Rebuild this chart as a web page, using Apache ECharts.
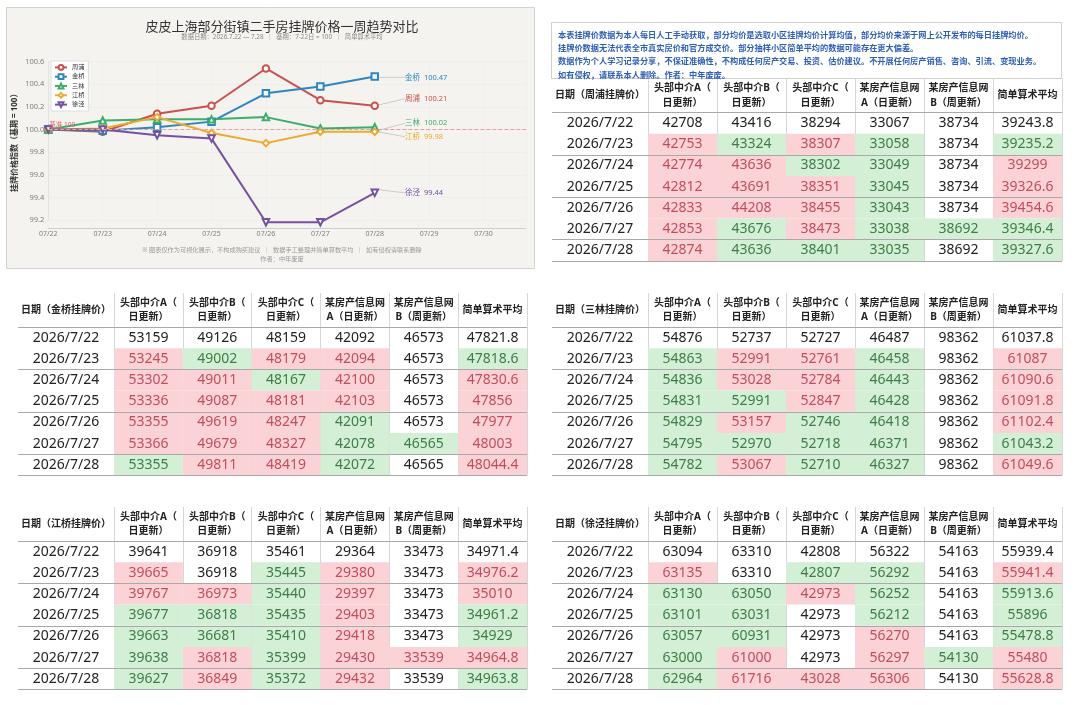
<!DOCTYPE html>
<html>
<head>
<meta charset="utf-8">
<script src="https://cdn.jsdelivr.net/npm/echarts@6/dist/echarts.min.js"></script>
<style>
html,body{margin:0;padding:0;background:#fff;}
#main{width:1080px;height:705px;}
</style>
</head>
<body>
<div id="main"></div>
<script>
// ---------- DATA ----------
const chartDates = ['07/22','07/23','07/24','07/25','07/26','07/27','07/28','07/29','07/30'];
const districts = ['周浦','金桥','三林','江桥','徐泾'];
const idxZhoupu   = [100, 99.98, 100.14, 100.21, 100.54, 100.26, 100.21];
const idxJinqiao  = [100, 99.99, 100.02, 100.07, 100.32, 100.38, 100.47];
const idxSanlin   = [100, 100.08, 100.09, 100.09, 100.11, 100.01, 100.02];
const idxJiangqiao= [100, 100.01, 100.11, 99.97, 99.88, 99.98, 99.98];
const idxXujing   = [100, 100.00, 99.95, 99.92, 99.18, 99.18, 99.44];

const tableDates = ['2026/7/22','2026/7/23','2026/7/24','2026/7/25','2026/7/26','2026/7/27','2026/7/28'];
const tableColumns = ['头部中介A（\n日更新）','头部中介B（\n日更新）','头部中介C（\n日更新）','某房产信息网\nA（日更新）','某房产信息网\nB（周更新）','简单算术平均'];

const zhoupuPrices = [
  [42708,43416,38294,33067,38734,39243.8],
  [42753,43324,38307,33058,38734,39235.2],
  [42774,43636,38302,33049,38734,39299],
  [42812,43691,38351,33045,38734,39326.6],
  [42833,44208,38455,33043,38734,39454.6],
  [42853,43676,38473,33038,38692,39346.4],
  [42874,43636,38401,33035,38692,39327.6]
];
const jinqiaoPrices = [
  [53159,49126,48159,42092,46573,47821.8],
  [53245,49002,48179,42094,46573,47818.6],
  [53302,49011,48167,42100,46573,47830.6],
  [53336,49087,48181,42103,46573,47856],
  [53355,49619,48247,42091,46573,47977],
  [53366,49679,48327,42078,46565,48003],
  [53355,49811,48419,42072,46565,48044.4]
];
const sanlinPrices = [
  [54876,52737,52727,46487,98362,61037.8],
  [54863,52991,52761,46458,98362,61087],
  [54836,53028,52784,46443,98362,61090.6],
  [54831,52991,52847,46428,98362,61091.8],
  [54829,53157,52746,46418,98362,61102.4],
  [54795,52970,52718,46371,98362,61043.2],
  [54782,53067,52710,46327,98362,61049.6]
];
const jiangqiaoPrices = [
  [39641,36918,35461,29364,33473,34971.4],
  [39665,36918,35445,29380,33473,34976.2],
  [39767,36973,35440,29397,33473,35010],
  [39677,36818,35435,29403,33473,34961.2],
  [39663,36681,35410,29418,33473,34929],
  [39638,36818,35399,29430,33539,34964.8],
  [39627,36849,35372,29432,33539,34963.8]
];
const xujingPrices = [
  [63094,63310,42808,56322,54163,55939.4],
  [63135,63310,42807,56292,54163,55941.4],
  [63130,63050,42973,56252,54163,55913.6],
  [63101,63031,42973,56212,54163,55896],
  [63057,60931,42973,56270,54163,55478.8],
  [63000,61000,42973,56297,54130,55480],
  [62964,61716,43028,56306,54130,55628.8]
];

const chartTitle = '皮皮上海部分街镇二手房挂牌价格一周趋势对比';
const chartSubtitle = '数据日期：2026.7.22 — 7.28  ｜  基期：7-22日 = 100  ｜  简单算术平均';
const yAxisTitle = '挂牌价格指数（基期 = 100）';
const footerLines = ['※ 图表仅作为可视化展示，不构成购买建议  ｜  数据手工整理并简单算数平均  ｜  如有侵权请联系删除', '作者：中年废废'];
const noteLines = [
  '本表挂牌价数据为本人每日人工手动获取，部分均价是选取小区挂牌均价计算均值，部分均价来源于网上公开发布的每日挂牌均价。',
  '挂牌价数据无法代表全市真实房价和官方成交价。部分抽样小区简单平均的数据可能存在更大偏差。',
  '数据作为个人学习记录分享，不保证准确性，不构成任何房产交易、投资、估价建议。不开展任何房产销售、咨询、引流、变现业务。',
  '如有侵权，请联系本人删除。作者：中年废废。'
];

// ---------- STYLE ----------
const FONT = '"Noto Sans", "Noto Sans CJK SC", sans-serif';
const lineColors = ['#c9514f','#2f86c0','#3cae6c','#eeaa2e','#76519f'];
const symbols = ['emptyCircle','emptyRect','emptyTriangle','emptyDiamond','emptyTriangle'];
const symbolRot = [0,0,0,0,180];
const endLabelDy = [-7, 1, -4, 5, 0];
const PINK_BG = '#fbd3d7', PINK_FG = '#c24e5c';
const GREEN_BG = '#d3efd6', GREEN_FG = '#3e7d48';
const LINE_H = '#a9a9a9', LINE_V = '#d6d6d6';

const seriesIdx = [idxZhoupu, idxJinqiao, idxSanlin, idxJiangqiao, idxXujing];

const tables = [
  {name:'周浦', rows: zhoupuPrices, left:648, top:112.5, width:414},
  {name:'金桥', rows: jinqiaoPrices, left:114, top:327, width:413},
  {name:'三林', rows: sanlinPrices, left:648, top:327, width:414},
  {name:'江桥', rows: jiangqiaoPrices, left:114, top:541, width:413},
  {name:'徐泾', rows: xujingPrices, left:648, top:541, width:414}
];
const ROW_H = 21.2, DATE_W = 96, HEAD_H = 34;

function buildCells(rows){
  const out = [];
  rows.forEach((row, r) => row.forEach((v, c) => {
    const prev = r > 0 ? rows[r-1][c] : v;
    out.push([c, r, v, Math.sign(v - prev)]);
  }));
  return out;
}
function renderCell(params, api){
  const c = api.coord([api.value(0), api.value(1)]);
  const s = api.size([1,1]);
  const t = api.value(3);
  const bg = t > 0 ? PINK_BG : (t < 0 ? GREEN_BG : null);
  const fg = t > 0 ? PINK_FG : (t < 0 ? GREEN_FG : '#222');
  const children = [];
  if (bg) children.push({type:'rect', shape:{x:c[0]-s[0]/2, y:c[1]-s[1]/2, width:s[0], height:s[1]}, style:{fill:bg}});
  children.push({type:'text', x:c[0], y:c[1], style:{text:String(api.value(2)), align:'center', verticalAlign:'middle', fill:fg, fontSize:14, fontFamily:FONT}});
  return {type:'group', children};
}
const rowLineInterval = (i) => i % 2 === 0;

// ---------- OPTION ----------
const grids = [{left:48.3, top:61.7, right:554, bottom:485}];
const xAxes = [{
  gridIndex:0, type:'value', min:0, max:8.78, interval:1, offset:8,
  axisLine:{show:true, lineStyle:{color:'#cfcfcf'}}, axisTick:{show:false},
  axisLabel:{fontSize:7, color:'#808080', margin:3, formatter:(v)=> Number.isInteger(v) ? (chartDates[v] || '') : '', showMaxLabel:false},
  splitLine:{show:true, lineStyle:{color:'#ececec', width:0.6}}
}];
const yAxes = [{
  gridIndex:0, type:'value', min:99.2, max:100.6, interval:0.2,
  name: yAxisTitle, nameLocation:'middle', nameGap:30,
  nameTextStyle:{fontSize:8, color:'#333', fontWeight:'bold'},
  axisLine:{show:true, lineStyle:{color:'#e2e2e2'}}, axisTick:{show:false},
  axisLabel:{fontSize:7.5, color:'#808080', margin:4, formatter:(v)=>v.toFixed(1)},
  splitLine:{show:true, lineStyle:{color:'#ebebeb', width:0.6}}
}];
const series = [];

districts.forEach((d, k) => {
  const vals = seriesIdx[k];
  const last = vals.length - 1;
  const s = {
    name: d, type:'line', xAxisIndex:0, yAxisIndex:0, clip:false,
    data: vals.map((v, i) => i === last ? {value:[i, v], label:{show:true}} : [i, v]),
    symbol: symbols[k], symbolRotate: symbolRot[k], symbolSize: 6.5,
    lineStyle:{width:2, color:lineColors[k]},
    itemStyle:{color:lineColors[k], borderWidth:1.5},
    label:{show:false, position:'right', distance:4, fontSize:7.5, color:lineColors[k],
      formatter:(p)=> p.seriesName + '  ' + p.value[1].toFixed(2)},
    labelLine:{show:true, lineStyle:{color:'#cccccc', width:1}},
    labelLayout:{dx:22, dy:endLabelDy[k]},
    animation:false, z:3
  };
  if (k === 0) {
    s.markLine = {
      silent:true, symbol:'none',
      lineStyle:{type:'dashed', color:'#e4a1a1', width:1},
      label:{show:true, position:'insideStartTop', formatter:'基准 100', fontSize:6.5, color:'#d06a6a', distance:1},
      data:[{yAxis:100}]
    };
  }
  series.push(s);
});

tables.forEach((t, i) => {
  const gi = i + 1;
  grids.push({left:t.left, top:t.top, width:t.width, height:ROW_H*7});
  xAxes.push({
    gridIndex:gi, type:'category', data:tableColumns, position:'top', boundaryGap:true,
    axisLine:{show:false},
    axisTick:{show:true, interval:0, length:HEAD_H, lineStyle:{color:LINE_V}},
    axisLabel:{interval:0, margin:17, verticalAlign:'middle', align:'center', fontSize:10, fontWeight:'bold', color:'#222', lineHeight:14.5},
    splitLine:{show:true, interval:0, lineStyle:{color:LINE_V}}
  });
  yAxes.push({
    gridIndex:gi, type:'category', data:tableDates, inverse:true, boundaryGap:true, z:5,
    name:'日期（' + t.name + '挂牌价）', nameLocation:'start', nameGap:17,
    nameTextStyle:{fontSize:10, fontWeight:'bold', color:'#222', align:'center', verticalAlign:'middle', padding:[0, DATE_W, 0, 0]},
    axisLine:{show:false},
    axisTick:{show:true, interval:rowLineInterval, length:DATE_W, lineStyle:{color:LINE_H}},
    axisLabel:{interval:0, align:'center', margin:DATE_W/2, fontSize:14, color:'#222'},
    splitLine:{show:true, interval:rowLineInterval, lineStyle:{color:LINE_H}}
  });
  series.push({
    type:'custom', xAxisIndex:gi, yAxisIndex:gi, coordinateSystem:'cartesian2d',
    encode:{x:0, y:1}, data: buildCells(t.rows), renderItem: renderCell, silent:true, animation:false, z:2
  });
});

const option = {
  backgroundColor:'#ffffff',
  animation:false,
  textStyle:{fontFamily:FONT},
  graphic:[
    {type:'rect', z:-10, shape:{x:6.5, y:7.5, width:528, height:261}, style:{fill:'#f4f3ef', stroke:'#d2d2d2', lineWidth:1}},
    {type:'rect', z:-10, shape:{x:551.5, y:22.5, width:510, height:56}, style:{fill:'none', stroke:'#d0d0d0', lineWidth:1}}
  ],
  title:[
    {text:chartTitle, subtext:chartSubtitle, left:277, top:16, textAlign:'center', itemGap:0,
      textStyle:{fontSize:13, color:'#333', fontWeight:'normal', fontFamily:FONT},
      subtextStyle:{fontSize:6.3, color:'#8a8a8a', fontFamily:FONT}},
    {text:footerLines.join('\n'), left:277, top:241, textAlign:'center',
      textStyle:{fontSize:6.2, color:'#9a9a9a', fontWeight:'normal', lineHeight:8.5, fontFamily:FONT}},
    {text:noteLines.join('\n'), left:553, top:23.5,
      textStyle:{fontSize:8.2, color:'#2f5fb3', fontWeight:'bold', lineHeight:13.4, fontFamily:FONT}}
  ],
  legend:{
    data:districts, orient:'vertical', left:51, top:61,
    itemWidth:12, itemHeight:6, itemGap:2.5, padding:[3,4,3,3],
    backgroundColor:'#ffffff', borderColor:'#dedede', borderWidth:1,
    textStyle:{fontSize:6.2, color:'#333', fontFamily:FONT}
  },
  grid:grids, xAxis:xAxes, yAxis:yAxes, series:series
};

const chart = echarts.init(document.getElementById('main'), null, {renderer:'canvas'});
chart.setOption(option);
</script>
</body>
</html>
